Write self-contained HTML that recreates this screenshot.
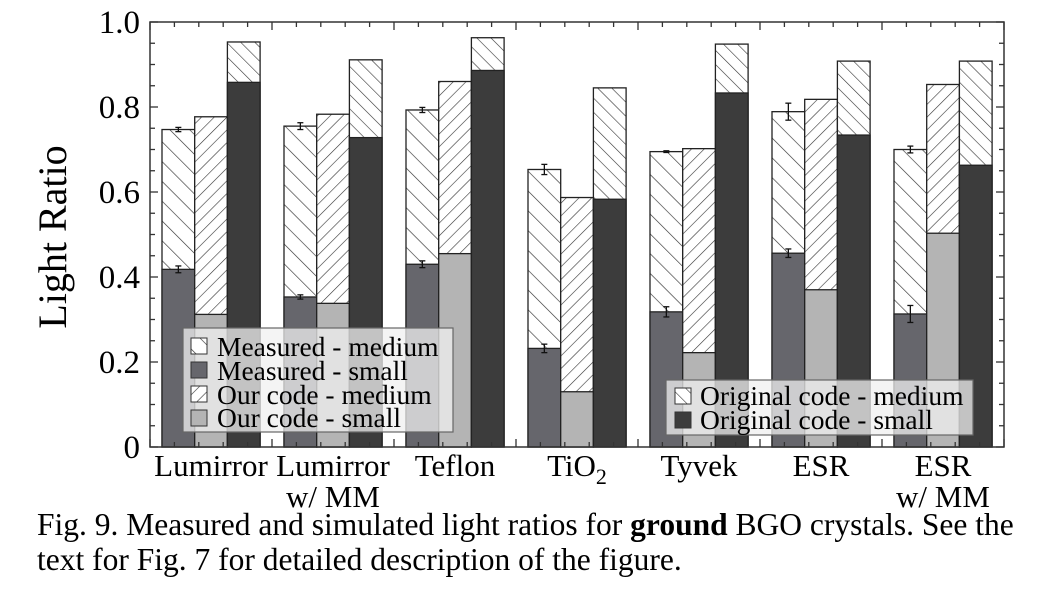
<!DOCTYPE html>
<html><head><meta charset="utf-8"><style>
body{margin:0;background:#fff;width:1052px;height:600px;overflow:hidden}
svg{font-family:"Liberation Serif",serif}
</style></head><body>
<svg id="chart" width="1052" height="600">
<defs>
<pattern id="hBack" patternUnits="userSpaceOnUse" width="14" height="14" patternTransform="rotate(-45)"><rect width="14" height="14" fill="#fff"/><line x1="0" y1="0" x2="0" y2="14" stroke="#333" stroke-width="1.3"/></pattern>
<pattern id="hFwd" patternUnits="userSpaceOnUse" width="9" height="9" patternTransform="rotate(45)"><rect width="9" height="9" fill="#fff"/><line x1="0" y1="0" x2="0" y2="9" stroke="#333" stroke-width="1.2"/></pattern>
<pattern id="hBack2" patternUnits="userSpaceOnUse" width="10" height="10" patternTransform="rotate(-45)"><rect width="10" height="10" fill="#fff"/><line x1="0" y1="0" x2="0" y2="10" stroke="#333" stroke-width="1.2"/></pattern>
</defs>
<g id="bars"></g>
<g id="axes"></g>
<g id="legend1">
<rect x="183" y="328" width="270" height="104" fill="rgba(240,240,240,0.75)" stroke="#666" stroke-width="1.2"/>
<rect x="191" y="338" width="16" height="16" fill="url(#hBack)" stroke="#333"/><text x="217" y="356" font-size="27.5">Measured - medium</text>
<rect x="191" y="362" width="16" height="16" fill="#66666c" stroke="#333"/><text x="217" y="380" font-size="27.5">Measured - small</text>
<rect x="191" y="386" width="16" height="16" fill="url(#hFwd)" stroke="#333"/><text x="217" y="404" font-size="27.5">Our code - medium</text>
<rect x="191" y="410" width="16" height="16" fill="#b4b4b4" stroke="#333"/><text x="217" y="427" font-size="27.5">Our code - small</text>
</g>
<g id="legend2">
<rect x="666" y="380" width="307" height="55" fill="rgba(240,240,240,0.75)" stroke="#666" stroke-width="1.2"/>
<rect x="675" y="388" width="16" height="16" fill="url(#hBack2)" stroke="#333"/><text x="700" y="405" font-size="27.5">Original code - medium</text>
<rect x="675" y="412" width="16" height="16" fill="#3c3c3c" stroke="#333"/><text x="700" y="429" font-size="27.5">Original code - small</text>
</g>
<text x="0" y="0" font-size="40" transform="translate(66,237) rotate(-90)" text-anchor="middle">Light Ratio</text>
<text x="37" y="535" font-size="31.5">Fig. 9. Measured and simulated light ratios for <tspan font-weight="bold">ground</tspan> BGO crystals. See the</text>
<text x="37" y="570" font-size="31.5">text for Fig. 7 for detailed description of the figure.</text>
</svg>
<script>
const categories = ["Lumirror","Lumirror w/ MM","Teflon","TiO2","Tyvek","ESR","ESR w/ MM"];
const measMedium = [0.747,0.755,0.793,0.653,0.695,0.789,0.700];
const measSmall  = [0.418,0.353,0.430,0.232,0.318,0.456,0.313];
const measMedErr = [0.005,0.008,0.006,0.012,0.002,0.020,0.008];
const measSmErr  = [0.008,0.005,0.008,0.010,0.012,0.010,0.020];
const ourMedium  = [0.777,0.783,0.860,0.587,0.702,0.818,0.853];
const ourSmall   = [0.312,0.338,0.455,0.130,0.222,0.370,0.503];
const origMedium = [0.953,0.911,0.963,0.845,0.948,0.908,0.908];
const origSmall  = [0.858,0.728,0.886,0.583,0.833,0.734,0.663];
const yTicks = [0,0.2,0.4,0.6,0.8,1.0];
const yTickLabels = ["0","0.2","0.4","0.6","0.8","1.0"];

const NS="http://www.w3.org/2000/svg";
const L=150,R=1004,T=22,B=447;
const groupW=(R-L)/categories.length;
const y=v=>B-(B-T)*v;
const x=(i,k)=>L+12+i*groupW+k*32.7;
const BW=32.7;
function mk(tag,attrs,parent){const e=document.createElementNS(NS,tag);for(const k in attrs)e.setAttribute(k,attrs[k]);parent.appendChild(e);return e;}
const bars=document.getElementById('bars'), axes=document.getElementById('axes');
const series=[
 {med:measMedium,sm:measSmall,mf:"url(#hBack)",sf:"#66666c",n:"measured"},
 {med:ourMedium,sm:ourSmall,mf:"url(#hFwd)",sf:"#b4b4b4",n:"ourcode"},
 {med:origMedium,sm:origSmall,mf:"url(#hBack2)",sf:"#3c3c3c",n:"original"}];
categories.forEach((c,i)=>{
 series.forEach((s,k)=>{
  const x0=x(i,k);
  const m=mk('rect',{x:x0,y:y(s.med[i]),width:BW,height:y(0)-y(s.med[i]),fill:s.mf,stroke:"#222","stroke-width":1.3},bars);
  
  
  const sm=mk('rect',{x:x0,y:y(s.sm[i]),width:BW,height:y(0)-y(s.sm[i]),fill:s.sf,stroke:"#222","stroke-width":1.3},bars);
  
  
 });
 const cx=x(i,0)+BW/2;
 [[measMedium[i],measMedErr[i]],[measSmall[i],measSmErr[i]]].forEach(([v,e])=>{
  const g=mk('g',{stroke:"#111","stroke-width":1.3},bars);
  
  
  mk('line',{x1:cx,x2:cx,y1:y(v+e),y2:y(v-e)},g);
  mk('line',{x1:cx-3,x2:cx+3,y1:y(v+e),y2:y(v+e)},g);
  mk('line',{x1:cx-3,x2:cx+3,y1:y(v-e),y2:y(v-e)},g);
 });
 const gx=L+groupW*(i+0.5);
 const lab=mk('text',{x:gx,y:476,"font-size":31,"text-anchor":"middle"},axes);
 
 
 if(c==="TiO2"){lab.textContent="TiO";const t=mk('tspan',{dy:8,"font-size":22},lab);t.textContent="2";}
 else if(c.includes(" w/ ")){lab.textContent=c.split(" w/ ")[0];const l2=mk('text',{x:gx,y:507,"font-size":31,"text-anchor":"middle"},axes);l2.textContent="w/ MM";
  
  }
 else lab.textContent=c;
});
const frame=mk('rect',{x:L,y:T,width:R-L,height:B-T,fill:"none",stroke:"#333","stroke-width":1.5},axes);


for(let v=0;v<=1.0001;v+=0.05){
 const major=Math.abs(v*5-Math.round(v*5))<1e-6, len=major?8:5;
 mk('line',{x1:L,x2:L+len,y1:y(v),y2:y(v),stroke:"#333","stroke-width":1.3},axes);
 mk('line',{x1:R,x2:R-len,y1:y(v),y2:y(v),stroke:"#333","stroke-width":1.3},axes);
}
for(let j=0;j<=35;j++){
 const xx=L+groupW*j/5, len=j%5===0?8:5;
 mk('line',{x1:xx,x2:xx,y1:T,y2:T+len,stroke:"#333","stroke-width":1.3},axes);
 mk('line',{x1:xx,x2:xx,y1:B,y2:B-len,stroke:"#333","stroke-width":1.3},axes);
}
yTicks.forEach((v,i)=>{
 const t=mk('text',{x:140,y:y(v)+11,"font-size":33,"text-anchor":"end"},axes);
 t.textContent=yTickLabels[i];
 
 
});
</script>
</body></html>
